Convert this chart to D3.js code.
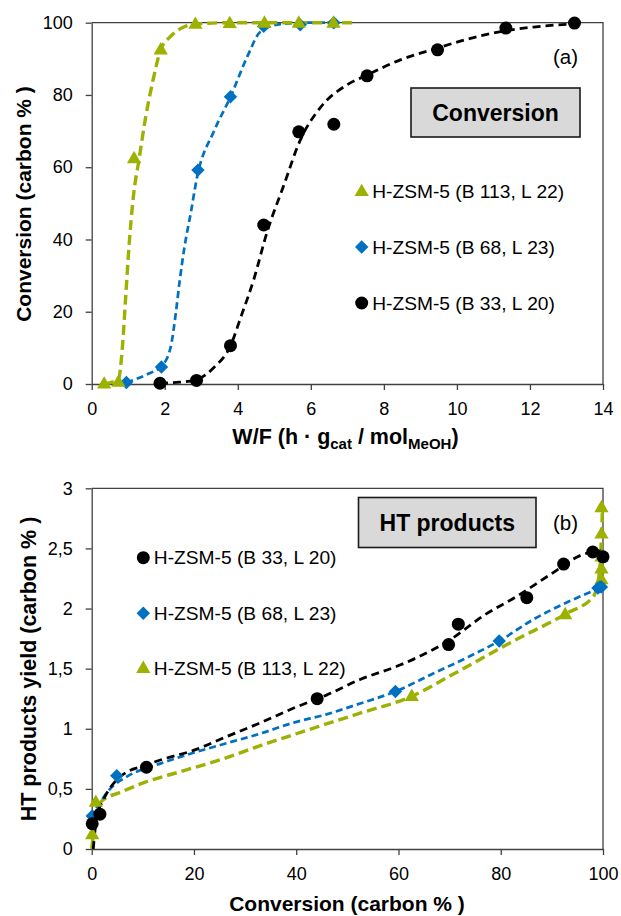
<!DOCTYPE html>
<html><head><meta charset="utf-8">
<script src="https://cdn.jsdelivr.net/npm/d3@7"></script>
<style>
body{margin:0;background:#fff;}
text{font-family:"Liberation Sans",Arial,sans-serif;fill:#000;}
</style></head><body>
<svg id="chart" width="621" height="916"></svg>
<script>
// ---------- DATA (a): conversion vs W/F ----------
const wf_b33   = [1.87, 2.87, 3.80, 4.71, 5.67, 6.63, 7.54, 9.47, 11.34, 13.22];
const conv_b33 = [0.2, 1.0, 10.6, 44.0, 69.8, 71.9, 85.3, 92.5, 98.5, 99.9];
const wf_b68   = [0.95, 1.91, 2.91, 3.80, 4.71, 5.71, 6.63];
const conv_b68 = [0.4, 4.7, 59.2, 79.5, 99.0, 99.4, 100];
const wf_b113   = [0.34, 0.73, 1.16, 1.89, 2.84, 3.78, 4.73, 5.67, 6.62];
const conv_b113 = [0.0, 0.5, 62.4, 92.5, 99.6, 99.8, 99.9, 99.9, 99.9];
// fitted (dashed) curves
const fitA_b33_x = [1.87, 2.4, 2.87, 3.34, 3.80, 4.1, 4.44, 4.80, 5.26, 5.71, 6.26, 6.99, 7.54, 8.45, 9.47, 10.27, 11.34, 12.1, 13.22];
const fitA_b33_y = [0.2, 0.5, 1.2, 4.5, 10.6, 19, 29, 42, 55, 67.5, 76.5, 82.8, 85.5, 89.7, 93.0, 95.4, 97.8, 98.8, 99.7];
const fitA_b68_x = [0.95, 1.52, 1.91, 2.16, 2.30, 2.41, 2.54, 2.71, 2.89, 3.34, 3.80, 4.26, 4.62, 5.17, 6.0, 6.62];
const fitA_b68_y = [0.4, 2.7, 4.9, 10.1, 19.4, 28.6, 37.9, 47.2, 57.5, 69.8, 79.5, 90.6, 97.5, 99.6, 100, 100];
const fitA_b113_x = [0.34, 0.73, 0.84, 0.93, 1.02, 1.14, 1.3, 1.48, 1.66, 1.89, 2.16, 2.52, 2.84, 3.78, 5.0, 7.27];
const fitA_b113_y = [0.0, 1.3, 10.1, 24.0, 37.9, 51.8, 62.4, 74, 83.2, 92.5, 96.2, 98.8, 99.6, 100, 100, 100];
const ticksA_x = [0, 2, 4, 6, 8, 10, 12, 14];
const ticksA_y = [0, 20, 40, 60, 80, 100];

// ---------- DATA (b): HT products yield vs conversion ----------
const convB_b33 = [0.1, 1.6, 10.7, 44.1, 69.8, 71.7, 85.1, 92.3, 98.0, 100];
const ht_b33    = [0.21, 0.29, 0.68, 1.25, 1.70, 1.87, 2.09, 2.37, 2.47, 2.43];
const convB_b68 = [0.1, 4.9, 59.4, 79.7, 99.0, 99.4, 99.7];
const ht_b68    = [0.275, 0.61, 1.31, 1.73, 2.17, 2.18, 2.18];
const convB_b113 = [0.1, 0.8, 62.6, 92.6, 99.7, 99.7, 99.7, 99.7, 99.7];
const ht_b113    = [0.12, 0.39, 1.27, 1.95, 2.24, 2.33, 2.43, 2.62, 2.84];
const fitB_b33_x = [0.3, 1.0, 2.3, 4.9, 6.85, 10.1, 13.4, 19.9, 26.4, 33, 39.4, 45.9, 52.5, 60.3, 66.8, 70.1, 76.6, 83.1, 89.6, 96.1, 99.7];
const fitB_b33_y = [0, 0.27, 0.41, 0.575, 0.64, 0.69, 0.74, 0.82, 0.935, 1.05, 1.17, 1.28, 1.41, 1.53, 1.66, 1.74, 1.94, 2.10, 2.28, 2.45, 2.48];
const fitB_b68_x = [0, 0.3, 1.6, 3.6, 6.8, 13.4, 19.9, 26.4, 33, 39.4, 45.9, 52.5, 59.4, 66.8, 73.3, 79.7, 86.4, 92.9, 99.4];
const fitB_b68_y = [0.16, 0.27, 0.38, 0.5, 0.60, 0.71, 0.80, 0.88, 0.96, 1.05, 1.12, 1.21, 1.31, 1.46, 1.59, 1.73, 1.91, 2.05, 2.17];
const fitB_b113_x = [0, 0.65, 1.6, 3.0, 4.9, 10.1, 17.9, 26.4, 33, 39.4, 45.9, 52.5, 62.6, 70.1, 82.5, 92.9, 98.1, 99.3, 99.7, 99.9];
const fitB_b113_y = [0, 0.21, 0.38, 0.43, 0.46, 0.55, 0.65, 0.76, 0.86, 0.95, 1.04, 1.13, 1.27, 1.44, 1.73, 1.96, 2.10, 2.3, 2.6, 2.84];
const ticksB_x = [0, 20, 40, 60, 80, 100];
const ticksB_y = [0, 0.5, 1, 1.5, 2, 2.5, 3];

const labels = {b33: "H-ZSM-5 (B 33, L 20)", b68: "H-ZSM-5 (B 68, L 23)", b113: "H-ZSM-5 (B 113, L 22)"};

// ---------- STYLES ----------
const COL = {b33: "#000000", b68: "#0070c0", b113: "#9cb100"};
const DASH = {b33: "8,5", b68: "7,4", b113: "10,5"};
const LW = {b33: 2.8, b68: 2.7, b113: 3.4};
const SYM = {b33: "circle", b68: "diamond", b113: "triangle"};

const svg = d3.select("#chart");
const zip = (a, b) => a.map((v, i) => [v, b[i]]);

function marker(g, type, x, y, color) {
  if (type === "circle") {
    g.append("circle").attr("cx", x).attr("cy", y).attr("r", 6.5).attr("fill", color);
  } else if (type === "diamond") {
    g.append("path").attr("d", d3.symbol().type(d3.symbolSquare).size(90)())
      .attr("transform", `translate(${x},${y}) rotate(45)`).attr("fill", color);
  } else {
    g.append("path").attr("d", d3.symbol().type(d3.symbolTriangle).size(88)())
      .attr("transform", `translate(${x},${y + 0.5})`).attr("fill", color);
  }
}

function panel(cfg) {
  const x = d3.scaleLinear().domain(cfg.xd).range([91.7, 603]);
  const y = d3.scaleLinear().domain(cfg.yd).range([cfg.bottom, cfg.top]);
  const g = svg.append("g");
  // frame
  g.append("path").attr("d", `M${x.range()[0]},${cfg.top}H603V${cfg.bottom}`)
    .attr("fill", "none").attr("stroke", "#404040").attr("stroke-width", 1.3);
  // axes
  const ax = g.append("g").attr("transform", `translate(0,${cfg.bottom})`)
    .call(d3.axisBottom(x).tickValues(cfg.xt).tickSize(6).tickPadding(12).tickSizeOuter(0).tickFormat(d3.format("d")));
  const ay = g.append("g").attr("transform", `translate(91.7,0)`)
    .call(d3.axisLeft(y).tickValues(cfg.yt).tickSize(6).tickPadding(13).tickSizeOuter(0).tickFormat(cfg.yfmt));
  [ax, ay].forEach(a => {
    a.select(".domain").attr("stroke", "#404040").attr("stroke-width", 1.3);
    a.selectAll(".tick line").attr("stroke", "#404040").attr("stroke-width", 1.3);
    a.selectAll(".tick text").attr("font-size", 18).attr("font-family", '"Liberation Sans",Arial,sans-serif').attr("fill", "#000");
  });
  // fitted dashed lines
  const line = d3.line().x(d => x(d[0])).y(d => y(d[1])).curve(d3.curveMonotoneX);
  cfg.order.forEach(k => {
    g.append("path").datum(zip(cfg.fit[k][0], cfg.fit[k][1])).attr("d", line)
      .attr("fill", "none").attr("stroke", COL[k]).attr("stroke-width", LW[k])
      .attr("stroke-dasharray", DASH[k]);
  });
  // points
  cfg.order.forEach(k => {
    const mg = g.append("g");
    zip(cfg.pts[k][0], cfg.pts[k][1]).forEach(d => marker(mg, SYM[k], x(d[0]), y(d[1]), COL[k]));
  });
  // legend
  cfg.legend.forEach((k, i) => {
    const ly = cfg.legY[i];
    marker(g, SYM[k], cfg.legX, ly, COL[k]);
    g.append("text").attr("x", cfg.legX + 10.5).attr("y", ly).attr("dy", "0.35em")
      .attr("font-size", 19.2).text(labels[k]);
  });
  // title box
  const b = cfg.box;
  g.append("rect").attr("x", b.x).attr("y", b.y).attr("width", b.w).attr("height", b.h)
    .attr("fill", "#d9d9d9").attr("stroke", "#1a1a1a").attr("stroke-width", 1.6);
  g.append("text").attr("x", b.x + b.w / 2).attr("y", b.ty).attr("text-anchor", "middle")
    .attr("font-size", 23).attr("font-weight", "bold").text(b.text);
  g.append("text").attr("x", 578).attr("y", cfg.tagY).attr("text-anchor", "end")
    .attr("font-size", 20.5).text(cfg.tag);
  return g;
}

panel({
  xd: [0, 14], yd: [0, 100], top: 22.7, bottom: 384, xt: ticksA_x, yt: ticksA_y,
  yfmt: d3.format("d"),
  order: ["b33", "b68", "b113"],
  fit: {b33: [fitA_b33_x, fitA_b33_y], b68: [fitA_b68_x, fitA_b68_y], b113: [fitA_b113_x, fitA_b113_y]},
  pts: {b33: [wf_b33, conv_b33], b68: [wf_b68, conv_b68], b113: [wf_b113, conv_b113]},
  legend: ["b113", "b68", "b33"], legX: 361.7, legY: [191.5, 247, 303],
  box: {x: 411, y: 88, w: 169, h: 49, ty: 121, text: "Conversion"},
  tag: "(a)", tagY: 64
});

panel({
  xd: [0, 100], yd: [0, 3], top: 488.3, bottom: 849, xt: ticksB_x, yt: ticksB_y,
  yfmt: d => d3.format("~g")(d).replace(".", ","),
  order: ["b113", "b68", "b33"],
  fit: {b33: [fitB_b33_x, fitB_b33_y], b68: [fitB_b68_x, fitB_b68_y], b113: [fitB_b113_x, fitB_b113_y]},
  pts: {b33: [convB_b33, ht_b33], b68: [convB_b68, ht_b68], b113: [convB_b113, ht_b113]},
  legend: ["b33", "b68", "b113"], legX: 143.3, legY: [557.7, 613.3, 668.3],
  box: {x: 358.5, y: 497.5, w: 177.5, h: 50, ty: 531, text: "HT products"},
  tag: "(b)", tagY: 530
});

// axis titles
svg.append("text").attr("transform", "translate(31,204) rotate(-90)").attr("text-anchor", "middle")
  .attr("font-size", 21).attr("font-weight", "bold").text("Conversion (carbon % )");
svg.append("text").attr("transform", "translate(36,669) rotate(-90)").attr("text-anchor", "middle")
  .attr("font-size", 21.5).attr("font-weight", "bold").text("HT products yield (carbon % )");
svg.append("text").attr("x", 347).attr("y", 911).attr("text-anchor", "middle")
  .attr("font-size", 21).attr("font-weight", "bold").text("Conversion (carbon % )");
const xt = svg.append("text").attr("x", 345.5).attr("y", 444).attr("text-anchor", "middle")
  .attr("font-size", 21.5).attr("font-weight", "bold");
xt.append("tspan").text("W/F (h · g");
xt.append("tspan").attr("font-size", 15).attr("dy", 5).text("cat");
xt.append("tspan").attr("dy", -5).text(" / mol");
xt.append("tspan").attr("font-size", 15).attr("dy", 5).text("MeOH");
xt.append("tspan").attr("dy", -5).text(")");
</script>
</body></html>
